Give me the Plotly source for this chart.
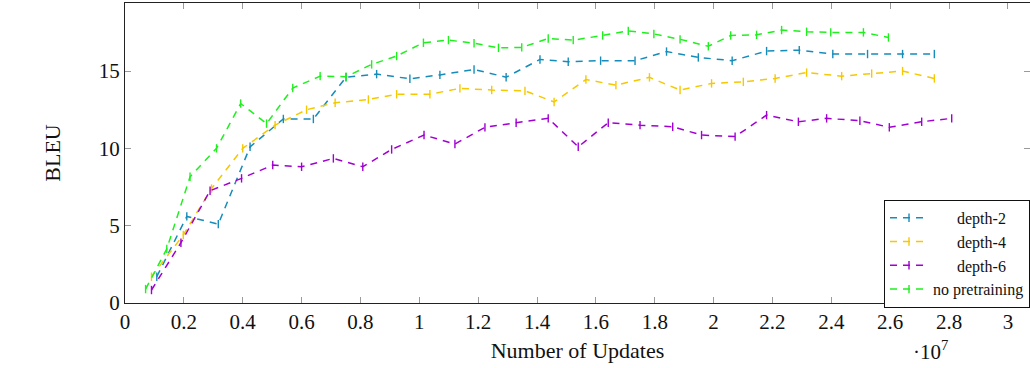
import plotly.graph_objects as go

# Training progress (updates in units of 1e7) vs. BLEU
d2_x = [0.108, 0.210, 0.317, 0.425, 0.538, 0.640, 0.751, 0.855, 0.968, 1.070, 1.186, 1.295,
        1.410, 1.506, 1.616, 1.733, 1.840, 1.948, 2.063, 2.180, 2.291, 2.405, 2.523, 2.642, 2.750]
d2_y = [1.7, 5.6, 5.1, 10.1, 11.9, 11.9, 14.6, 14.8, 14.5, 14.75, 15.1, 14.6,
        15.75, 15.6, 15.67, 15.67, 16.26, 15.88, 15.67, 16.29, 16.35, 16.1, 16.1, 16.1, 16.1]

d4_x = [0.090, 0.198, 0.294, 0.400, 0.510, 0.617, 0.714, 0.827, 0.923, 1.036, 1.138, 1.246, 1.359,
        1.458, 1.566, 1.668, 1.782, 1.886, 1.993, 2.101, 2.209, 2.316, 2.435, 2.537, 2.642, 2.750]
d4_y = [1.7, 4.4, 7.4, 10.0, 11.5, 12.5, 12.95, 13.16, 13.5, 13.5, 13.88, 13.77, 13.72,
        13.0, 14.45, 14.09, 14.59, 13.77, 14.2, 14.3, 14.52, 14.9, 14.67, 14.84, 15.0, 14.52]

d6_x = [0.090, 0.190, 0.289, 0.396, 0.502, 0.600, 0.708, 0.808, 0.906, 1.016, 1.121, 1.223, 1.329, 1.438,
        1.540, 1.642, 1.750, 1.861, 1.959, 2.073, 2.180, 2.288, 2.384, 2.497, 2.597, 2.707, 2.809]
d6_y = [0.84, 3.9, 7.26, 8.06, 8.92, 8.81, 9.35, 8.81, 9.93, 10.86, 10.28, 11.36, 11.66, 11.94,
        10.1, 11.66, 11.5, 11.4, 10.86, 10.76, 12.15, 11.72, 11.94, 11.79, 11.36, 11.72, 11.94]

np_x = [0.070, 0.142, 0.221, 0.311, 0.393, 0.481, 0.570, 0.663, 0.751, 0.838, 0.923, 1.014, 1.099,
        1.186, 1.269, 1.348, 1.438, 1.523, 1.623, 1.710, 1.797, 1.886, 1.982, 2.058, 2.146, 2.231,
        2.316, 2.398, 2.509, 2.594]
np_y = [0.9, 3.5, 8.16, 10.0, 12.9, 11.6, 13.9, 14.67, 14.63, 15.43, 15.97, 16.83, 17.0,
        16.8, 16.5, 16.53, 17.1, 17.0, 17.3, 17.6, 17.4, 17.05, 16.6, 17.3, 17.34, 17.65,
        17.54, 17.5, 17.5, 17.17]

NB = "\u00a0"
series = [
    (NB * 6 + "depth-2", d2_x, d2_y, "#168cba"),
    (NB * 6 + "depth-4", d4_x, d4_y, "#f5c800"),
    (NB * 6 + "depth-6", d6_x, d6_y, "#a000d2"),
    ("no pretraining", np_x, np_y, "#1ef01e"),
]

fig = go.Figure()
for name, xs, ys, col in series:
    fig.add_trace(go.Scatter(
        x=xs, y=ys, name=name, mode="lines+markers",
        line=dict(color=col, width=1.5, dash="7px,6px"),
        marker=dict(symbol="line-ns", size=6, line=dict(color=col, width=1.4)),
    ))

serif = "Liberation Serif, DejaVu Serif, serif"
axis_common = dict(
    showline=True, linecolor="#222", linewidth=1.2, mirror="ticks",
    ticks="inside", ticklen=6, tickcolor="#9a9a9a", tickwidth=1,
    showgrid=False, zeroline=False,
    tickfont=dict(family=serif, size=21, color="#111"),
)

fig.update_layout(
    width=1030, height=368,
    margin=dict(l=125, r=0, t=3, b=65),
    paper_bgcolor="white", plot_bgcolor="white",
    showlegend=True,
    legend=dict(
        x=1, y=-0.016, xanchor="right", yanchor="bottom",
        bgcolor="white", bordercolor="#111", borderwidth=1,
        font=dict(family=serif, size=16, color="#111"),
        tracegroupgap=0, itemwidth=38,
    ),
    xaxis=dict(
        range=[0, 3.075], tickvals=[0, 0.2, 0.4, 0.6, 0.8, 1, 1.2, 1.4, 1.6, 1.8, 2, 2.2, 2.4, 2.6, 2.8, 3],
        ticktext=["0", "0.2", "0.4", "0.6", "0.8", "1", "1.2", "1.4", "1.6", "1.8", "2", "2.2", "2.4", "2.6", "2.8", "3"],
        title=dict(text="Number of Updates", font=dict(family=serif, size=22, color="#111"), standoff=9),
        **axis_common,
    ),
    yaxis=dict(
        range=[0, 19.4], tickvals=[0, 5, 10, 15],
        title=dict(text="BLEU", font=dict(family=serif, size=22, color="#111"), standoff=32),
        **axis_common,
    ),
    annotations=[dict(
        text="·10<sup>7</sup>",
        # placed in paper units so it lands below the right end of the x axis
        x=(930 - 125) / 905, y=-(350 - 303) / 300, xref="paper", yref="paper",
        xanchor="center", yanchor="middle",
        showarrow=False, font=dict(family=serif, size=21, color="#111"),
    )],
)

fig.write_html("out.html")
